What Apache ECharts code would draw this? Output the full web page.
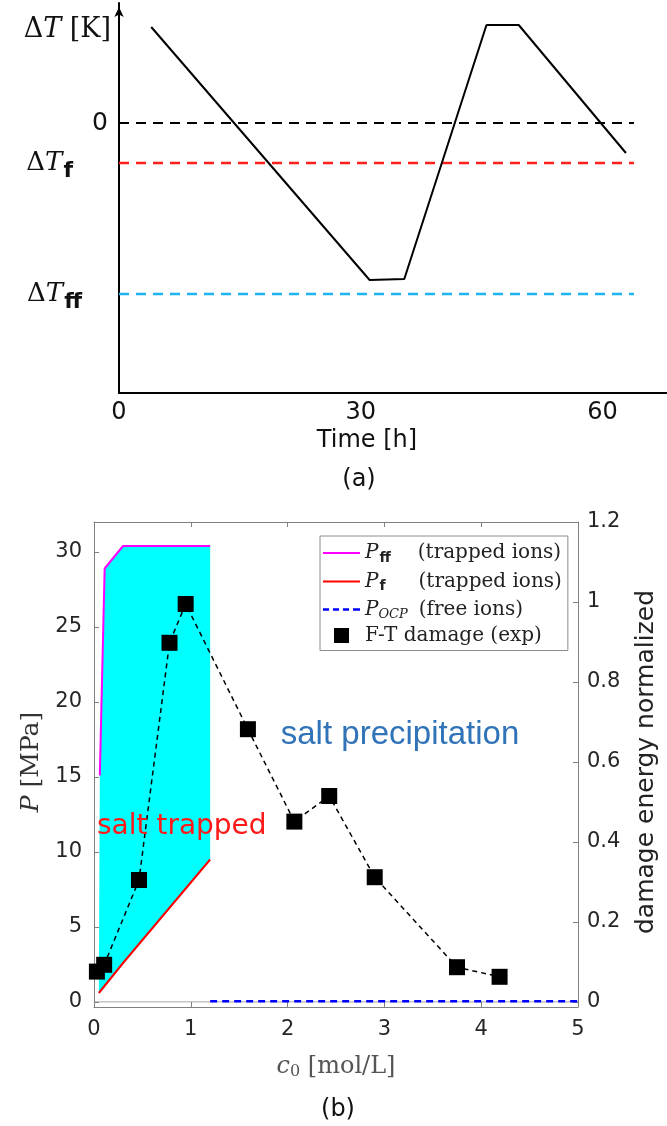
<!DOCTYPE html>
<html>
<head>
<meta charset="utf-8">
<script src="https://cdn.jsdelivr.net/npm/echarts@6/dist/echarts.min.js"></script>
<style>
html, body { margin: 0; padding: 0; background: #fff; }
#chart { width: 667px; height: 1126px; }
</style>
</head>
<body>
<div id="chart"></div>
<script>
// (a) freeze-thaw temperature cycle (schematic units)
const timeH = [4, 31.1, 35.4, 45.6, 49.6, 62.9]
const deltaT = [9.6, -15.7, -15.6, 9.8, 9.8, -3.0]
const levelEnds = [0, 63.9]
const levelZero = 0
const levelF = -4
const levelFF = -17.1
const timeTicks = [0, 30, 60]
const tempTickValues = [0, -4, -17.1]
const tempTickLabels = ['0', '{d|Δ}{t|T}{s|f}{pf|}', '{d|Δ}{t|T}{s|ff}{pff|}']

// (b) pressure vs concentration
const pffC = [0.06, 0.11, 0.3, 1.2]
const pffP = [15.1, 28.9, 30.4, 30.4]
const pfC = [0.05, 0.3, 1.2]
const pfP = [0.6, 2.6, 9.5]
const pocpC = [1.2, 5]
const pocpP = [0.05, 0.05]
const zeroC = [0, 5]
const zeroP = [0, 0]
const damageC = [0.03, 0.105, 0.465, 0.78, 0.947, 1.59, 2.07, 2.43, 2.9, 3.75, 4.19]
const damageE = [0.076, 0.093, 0.305, 0.898, 0.995, 0.682, 0.451, 0.515, 0.312, 0.087, 0.063]
const legendNames = ['Pff', 'Pf', 'POCP', 'FT']
const legendLabels = [
  '{p|P}{sb|ff}{g1|}{t|(trapped ions)}',
  '{p|P}{sb|f}{g2|}{t|(trapped ions)}',
  '{p|P}{si|OCP}{g3|}{t|(free ions)}',
  '{t|F-T damage (exp)}'
]

const pairs = (xs, ys) => xs.map((x, i) => [x, ys[i]])

const chart = echarts.init(document.getElementById('chart'))

const serif = 'DejaVu Serif'
const sans = 'DejaVu Sans'
const frame = { show: true, lineStyle: { color: '#808080', width: 1 } }
const inTick = { inside: true, length: 5, lineStyle: { color: '#808080' } }
const lineIcon = 'path://M0 0H37V2.2H0Z'
const dashIcon = 'path://M0 0H6V2.4H0Z M10 0H16V2.4H10Z M20 0H26V2.4H20Z M30 0H37V2.4H30Z'
const squareIcon = 'path://M0 0H10V10H0Z'

chart.setOption({
  animation: false,
  grid: [
    { left: 119, top: 3, width: 548, height: 390, outerBoundsMode: 'none' },
    { left: 94, top: 522, width: 484, height: 485, outerBoundsMode: 'none' },
    { left: 94, top: 522, width: 484, height: 480, outerBoundsMode: 'none' }
  ],
  xAxis: [
    {
      gridIndex: 0, type: 'value', min: 0, max: 68, interval: 30,
      axisLine: { onZero: false, lineStyle: { color: '#000', width: 2 } },
      axisTick: { show: false },
      splitLine: { show: false },
      axisLabel: { customValues: timeTicks, color: '#111', fontFamily: sans, fontSize: 24, margin: 8 },
      name: 'Time [h]', nameLocation: 'middle', nameGap: 36,
      nameTextStyle: { color: '#111', fontFamily: sans, fontSize: 24, padding: [0, 52, 0, 0] }
    },
    {
      gridIndex: 1, type: 'value', min: 0, max: 5, interval: 1, position: 'bottom',
      axisLine: { onZero: false, ...frame },
      axisTick: inTick,
      splitLine: { show: false },
      axisLabel: { color: '#262626', fontFamily: sans, fontSize: 21, margin: 12 },
      name: '{c|c}{z|0}{u| [mol/L]}', nameLocation: 'middle', nameGap: 46,
      nameTextStyle: {
        rich: {
          c: { fontFamily: serif, fontStyle: 'italic', fontSize: 24, color: '#555', lineHeight: 28 },
          z: { fontFamily: serif, fontSize: 16, color: '#555', lineHeight: 18, padding: [10, 0, 0, 0] },
          u: { fontFamily: serif, fontSize: 24, color: '#555', lineHeight: 28 }
        }
      }
    },
    {
      gridIndex: 1, type: 'value', min: 0, max: 5, interval: 1, position: 'top',
      axisLine: { onZero: false, ...frame },
      axisTick: inTick,
      axisLabel: { show: false },
      splitLine: { show: false }
    },
    { gridIndex: 2, type: 'value', min: 0, max: 5, show: false }
  ],
  yAxis: [
    {
      gridIndex: 0, type: 'value', min: -27, max: 12,
      axisLine: {
        show: true, onZero: false, symbol: ['none', 'arrow'], symbolSize: [7, 10], symbolOffset: [0, -4],
        lineStyle: { color: '#000', width: 2 }
      },
      axisTick: { show: false },
      splitLine: { show: false },
      axisLabel: {
        customValues: tempTickValues,
        margin: 11,
        formatter: (v) => {
          const i = tempTickValues.findIndex((t) => Math.abs(t - v) < 1e-6)
          return i < 0 ? '' : tempTickLabels[i]
        },
        rich: {
          d: { fontFamily: serif, fontSize: 26, color: '#111', lineHeight: 30 },
          t: { fontFamily: serif, fontStyle: 'italic', fontSize: 26, color: '#111', lineHeight: 30 },
          s: { fontFamily: sans, fontWeight: 'bold', fontSize: 22, color: '#111', lineHeight: 24, padding: [16, 0, 0, 1] },
          pf: { width: 35 },
          pff: { width: 26 }
        },
        color: '#111', fontFamily: sans, fontSize: 25
      },
      name: '{d|Δ}{t|T}{r| [K]}', nameLocation: 'end', nameGap: -27,
      nameTextStyle: {
        align: 'right', verticalAlign: 'middle', padding: [0, 8, 0, 0],
        rich: {
          d: { fontFamily: serif, fontSize: 27, color: '#111' },
          t: { fontFamily: serif, fontStyle: 'italic', fontSize: 27, color: '#111' },
          r: { fontFamily: serif, fontSize: 27, color: '#111' }
        }
      }
    },
    {
      gridIndex: 1, type: 'value', min: 0, max: 1, position: 'left',
      axisLine: { onZero: false, ...frame }, axisTick: { show: false }, axisLabel: { show: false }, splitLine: { show: false }
    },
    {
      gridIndex: 1, type: 'value', min: 0, max: 1, position: 'right',
      axisLine: { onZero: false, ...frame }, axisTick: { show: false }, axisLabel: { show: false }, splitLine: { show: false }
    },
    {
      gridIndex: 2, type: 'value', min: 0, max: 32, interval: 5, position: 'left',
      axisLine: { show: false },
      axisTick: { show: true, ...inTick },
      splitLine: { show: false },
      axisLabel: { showMaxLabel: false, color: '#262626', fontFamily: sans, fontSize: 21, margin: 12 },
      name: '{p|P}{u| [MPa]}', nameLocation: 'middle', nameGap: 48, nameRotate: 90,
      nameTextStyle: {
        rich: {
          p: { fontFamily: serif, fontStyle: 'italic', fontSize: 25, color: '#333' },
          u: { fontFamily: serif, fontSize: 25, color: '#333' }
        }
      }
    },
    {
      gridIndex: 2, type: 'value', min: 0, max: 1.2, interval: 0.2, position: 'right',
      axisLine: { show: false },
      axisTick: { show: true, ...inTick },
      splitLine: { show: false },
      axisLabel: {
        color: '#262626', fontFamily: sans, fontSize: 21, margin: 9,
        formatter: (v) => String(Math.round(v * 10) / 10)
      },
      name: 'damage energy normalized', nameLocation: 'middle', nameGap: 56, nameRotate: 90,
      nameTextStyle: { color: '#222', fontFamily: sans, fontSize: 25 }
    }
  ],
  legend: {
    data: [
      { name: 'Pff', icon: lineIcon },
      { name: 'Pf', icon: lineIcon },
      { name: 'POCP', icon: dashIcon },
      { name: 'FT', icon: squareIcon }
    ],
    orient: 'vertical', left: 320, top: 536,
    itemWidth: 37, itemHeight: 15, itemGap: 4.5,
    padding: [5, 6, 5, 3],
    symbolKeepAspect: true,
    borderColor: '#8c8c8c', borderWidth: 1, backgroundColor: '#fff',
    formatter: (name) => legendLabels[legendNames.indexOf(name)],
    textStyle: {
      rich: {
        p: { fontFamily: serif, fontStyle: 'italic', fontSize: 20, color: '#222', lineHeight: 24 },
        sb: { fontFamily: sans, fontWeight: 'bold', fontSize: 14, color: '#222', lineHeight: 14, padding: [10, 0, 0, 1] },
        si: { fontFamily: serif, fontStyle: 'italic', fontSize: 13, color: '#222', lineHeight: 14, padding: [10, 0, 0, 0] },
        t: { fontFamily: serif, fontSize: 20, color: '#222', lineHeight: 24 },
        g1: { width: 27 },
        g2: { width: 33 },
        g3: { width: 11 }
      }
    }
  },
  graphic: [
    { type: 'text', x: 359, y: 480, style: { text: '(a)', font: '24px DejaVu Sans', fill: '#111', textAlign: 'center', textVerticalAlign: 'middle' } },
    { type: 'text', x: 338, y: 1110, style: { text: '(b)', font: '24px DejaVu Sans', fill: '#111', textAlign: 'center', textVerticalAlign: 'middle' } },
    { type: 'text', x: 400, y: 735, z: 10, style: { text: 'salt precipitation', font: '33px Liberation Sans', fill: '#3073b8', textAlign: 'center', textVerticalAlign: 'middle' } },
    { type: 'text', x: 97, y: 827, z: 10, style: { text: 'salt trapped', font: '28px DejaVu Sans', fill: '#ff1a1a', textAlign: 'left', textVerticalAlign: 'middle' } }
  ],
  series: [
    // (a)
    {
      type: 'line', xAxisIndex: 0, yAxisIndex: 0, symbol: 'none',
      data: pairs(levelEnds, [levelZero, levelZero]),
      lineStyle: { color: '#000', width: 2, type: [10, 7] }
    },
    {
      type: 'line', xAxisIndex: 0, yAxisIndex: 0, symbol: 'none',
      data: pairs(levelEnds, [levelF, levelF]),
      lineStyle: { color: '#ff1f1f', width: 2.5, type: [10, 7] }
    },
    {
      type: 'line', xAxisIndex: 0, yAxisIndex: 0, symbol: 'none',
      data: pairs(levelEnds, [levelFF, levelFF]),
      lineStyle: { color: '#1db4f2', width: 2.5, type: [10, 7] }
    },
    {
      type: 'line', xAxisIndex: 0, yAxisIndex: 0, symbol: 'none',
      data: pairs(timeH, deltaT),
      lineStyle: { color: '#000', width: 2 }
    },
    // (b)
    {
      type: 'custom', xAxisIndex: 3, yAxisIndex: 3, silent: true, z: 1,
      data: [[0, 0]],
      renderItem: (params, api) => {
        const pts = pffC.map((c, i) => api.coord([c, pffP[i]]))
        for (let i = pfC.length - 1; i >= 0; i--) pts.push(api.coord([pfC[i], pfP[i]]))
        return { type: 'polygon', shape: { points: pts }, style: { fill: '#00ffff' } }
      }
    },
    {
      type: 'line', xAxisIndex: 3, yAxisIndex: 3, symbol: 'none', z: 2,
      data: pairs(zeroC, zeroP),
      lineStyle: { color: '#8a8a8a', width: 1 }
    },
    {
      name: 'Pff', type: 'line', xAxisIndex: 3, yAxisIndex: 3, symbol: 'none', z: 3,
      data: pairs(pffC, pffP), color: '#ff00ff',
      lineStyle: { color: '#ff00ff', width: 2 }
    },
    {
      name: 'Pf', type: 'line', xAxisIndex: 3, yAxisIndex: 3, symbol: 'none', z: 3,
      data: pairs(pfC, pfP), color: '#ff0000',
      lineStyle: { color: '#ff0000', width: 2 }
    },
    {
      name: 'POCP', type: 'line', xAxisIndex: 3, yAxisIndex: 3, symbol: 'none', z: 3,
      data: pairs(pocpC, pocpP), color: '#0000ff',
      lineStyle: { color: '#0000ff', width: 2.5, type: [7, 5] }
    },
    {
      name: 'FT link', type: 'line', xAxisIndex: 3, yAxisIndex: 4, symbol: 'none', z: 4,
      data: pairs(damageC, damageE),
      lineStyle: { color: '#000', width: 1.5, type: [5, 4] }
    },
    {
      name: 'FT', type: 'scatter', xAxisIndex: 3, yAxisIndex: 4, z: 5,
      symbol: 'rect', symbolSize: 16, color: '#000',
      itemStyle: { opacity: 1 },
      data: pairs(damageC, damageE)
    }
  ]
})
</script>
</body>
</html>
